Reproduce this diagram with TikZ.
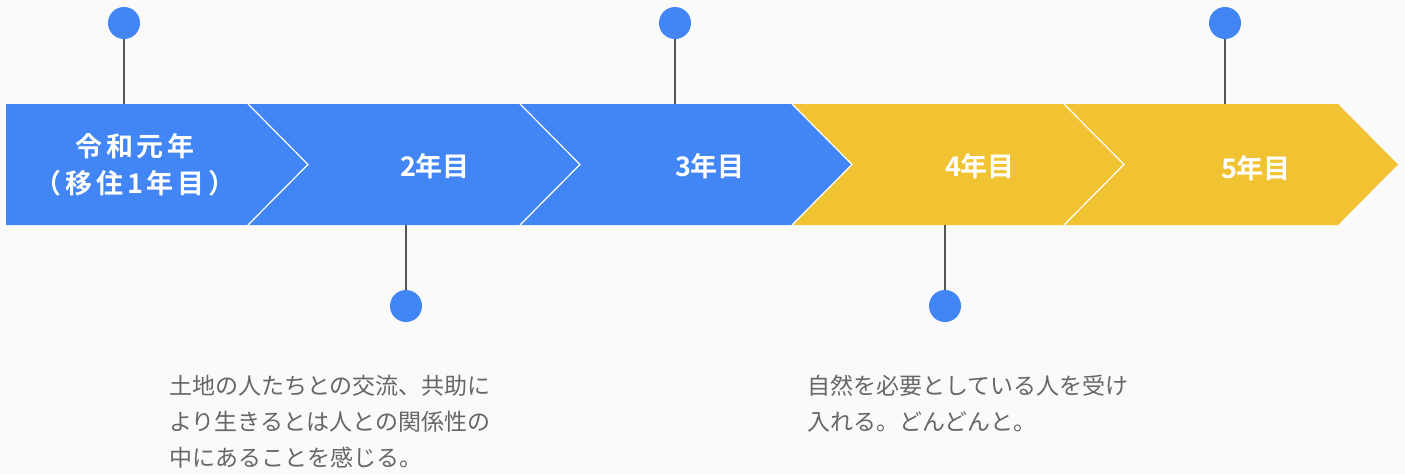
\documentclass[tikz,border=0pt]{standalone}
\usepackage{fontspec}
\setmainfont{Noto Sans CJK JP}
\newfontfamily\labelfont{Noto Sans CJK JP Bold}
\newfontfamily\labelfontsp[LetterSpace=14]{Noto Sans CJK JP Bold}
\definecolor{bgc}{HTML}{FAFAFA}
\definecolor{blueC}{HTML}{4285F4}
\definecolor{yellowC}{HTML}{F1C232}
\definecolor{pinline}{HTML}{555555}
\definecolor{bodytext}{HTML}{666666}
\tikzset{
  chev/.style={line width=1.2pt, draw=white, line join=miter},
  pin/.style={circle, fill=blueC, minimum size=32pt, inner sep=0pt},
  stem/.style={draw=pinline, line width=1.5pt},
  lbl/.style={text=white, font=\labelfont\fontsize{27}{37}\selectfont, align=center, inner sep=0pt},
  body/.style={text=bodytext, font=\fontsize{23}{36}\selectfont, align=left, inner sep=0pt, anchor=north west}
}
\begin{document}
\begin{tikzpicture}[x=1pt,y=-1pt]
\fill[bgc] (0,0) rectangle (1405,474);
\useasboundingbox (0,0) rectangle (1405,474);
% chevrons
\fill[blueC] (6,104) -- (248,104) -- (308,164.5) -- (248,225) -- (6,225) -- cycle;
\fill[blueC] (248,104) -- (520,104) -- (580,164.5) -- (520,225) -- (248,225) -- (308,164.5) -- cycle;
\fill[blueC] (520,104) -- (792,104) -- (852,164.5) -- (792,225) -- (520,225) -- (580,164.5) -- cycle;
\fill[yellowC] (792,104) -- (1064,104) -- (1124,164.5) -- (1064,225) -- (792,225) -- (852,164.5) -- cycle;
\fill[yellowC] (1064,104) -- (1338,104) -- (1398,164.5) -- (1338,225) -- (1064,225) -- (1124,164.5) -- cycle;
\draw[chev] (248,104) -- (308,164.5) -- (248,225);
\draw[chev] (520,104) -- (580,164.5) -- (520,225);
\draw[chev] (792,104) -- (852,164.5) -- (792,225);
\draw[chev] (1064,104) -- (1124,164.5) -- (1064,225);
% labels
\node[lbl, font=\labelfontsp\fontsize{27}{37}\selectfont] (l1) at (135,165) {令和元年\\（移住1年目）};
\node[lbl] (l2) at (435,166) {2年目};
\node[lbl] (l3) at (710,166) {3年目};
\node[lbl] (l4) at (980,166) {4年目};
\node[lbl] (l5) at (1256,168) {5年目};
% pins
\node[pin] (p1) at (124,23) {};
\node[pin] (p2) at (406,306) {};
\node[pin] (p3) at (675,23) {};
\node[pin] (p4) at (945,306) {};
\node[pin] (p5) at (1225,23) {};
\coordinate (b1) at (124,104);
\coordinate (b2) at (406,225);
\coordinate (b3) at (675,104);
\coordinate (b4) at (945,225);
\coordinate (b5) at (1225,104);
\draw[stem] (p1) -- (b1);
\draw[stem] (p2) -- (b2);
\draw[stem] (p3) -- (b3);
\draw[stem] (p4) -- (b4);
\draw[stem] (p5) -- (b5);
% body texts
\node[body] (t1) at (169,375) {土地の人たちとの交流、共助に\\より生きるとは人との関係性の\\中にあることを感じる。};
\node[body] (t2) at (807,375) {自然を必要としている人を受け\\入れる。どんどんと。};
\end{tikzpicture}
\end{document}
